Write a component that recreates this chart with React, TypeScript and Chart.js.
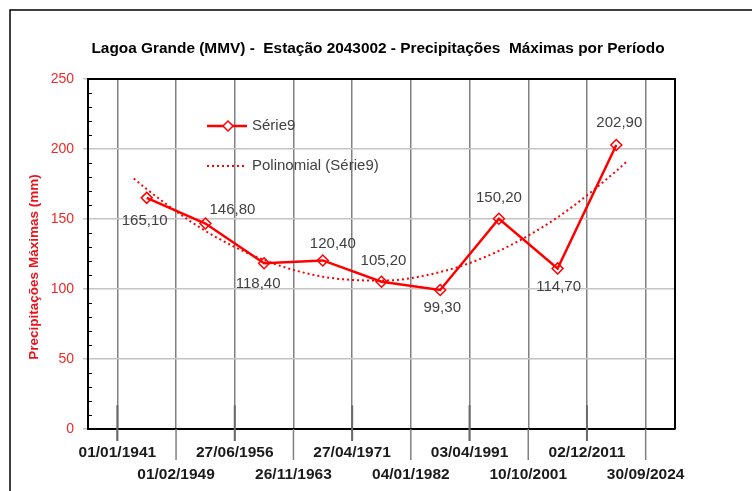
import React, { useEffect, useRef } from 'react';
import { Chart, registerables } from 'chart.js';

Chart.register(...registerables);

// ---- data ----
const periodLabels = [
  '01/01/1941', '01/02/1949', '27/06/1956', '26/11/1963', '27/04/1971',
  '04/01/1982', '03/04/1991', '10/10/2001', '02/12/2011', '30/09/2024',
];
const periodIndex = [1, 2, 3, 4, 5, 6, 7, 8, 9];
const serieValues = [165.1, 146.8, 118.4, 120.4, 105.2, 99.3, 150.2, 114.7, 202.9];
const trendPositions = [0.78, 1, 2, 3, 4, 5, 6, 7, 8, 9, 9.18];
const trendValues = [179.0, 171.3, 141.5, 120.7, 108.8, 106.0, 112.1, 127.2, 151.2, 184.3, 191.2];
const yTickStep = 10;
const yMajorStep = 50;

const titleText = 'Lagoa Grande (MMV) -  Estação 2043002 - Precipitações  Máximas por Período';
const yTitleText = 'Precipitações Máximas (mm)';
const legendSerie = 'Série9';
const legendTrend = 'Polinomial (Série9)';

// label offsets (style, px) relative to each point
const labelOffsets = [
  [-2, 23], [27, -14], [-6, 21], [10, -17], [2, -21], [2, 18], [0, -21], [1, 18], [3, -22],
];

const SANS = '"Liberation Sans", Arial, sans-serif';
const RED = '#ff0000';

const fmt = (v: number) => v.toFixed(2).replace('.', ',');

const decorPlugin = {
  id: 'decor',
  beforeDraw(chart: any) {
    const { ctx, width, height } = chart;
    ctx.save();
    ctx.fillStyle = '#ffffff';
    ctx.fillRect(0, 0, width, height);
    ctx.restore();
  },
  afterDatasetsDraw(chart: any) {
    const { ctx } = chart;
    const meta = chart.getDatasetMeta(0);
    ctx.save();
    ctx.font = `15px ${SANS}`;
    ctx.fillStyle = '#404040';
    ctx.textAlign = 'center';
    ctx.textBaseline = 'middle';
    meta.data.forEach((pt: any, i: number) => {
      const [dx, dy] = labelOffsets[i];
      ctx.fillText(fmt(serieValues[i]), pt.x + dx, pt.y + dy);
    });
    ctx.restore();
  },
  afterDraw(chart: any) {
    const { ctx, chartArea, width, height } = chart;
    const xs = chart.scales.x;
    const ys = chart.scales.y;
    ctx.save();

    // outer frame (left and top visible)
    ctx.strokeStyle = '#000';
    ctx.lineWidth = 1.5;
    ctx.beginPath();
    ctx.moveTo(10, height);
    ctx.lineTo(10, 10);
    ctx.lineTo(width, 10);
    ctx.stroke();

    // plot border top/right
    ctx.lineWidth = 2;
    ctx.beginPath();
    ctx.moveTo(chartArea.left, chartArea.top);
    ctx.lineTo(chartArea.right, chartArea.top);
    ctx.lineTo(chartArea.right, chartArea.bottom);
    ctx.stroke();

    // y minor ticks inside
    ctx.lineWidth = 1;
    for (let v = 0; v <= 250; v += yTickStep) {
      if (v % yMajorStep === 0) continue;
      const y = Math.round(ys.getPixelForValue(v)) + 0.5;
      ctx.beginPath();
      ctx.moveTo(chartArea.left, y);
      ctx.lineTo(chartArea.left + 4, y);
      ctx.stroke();
    }

    // x extension lines below axis
    periodLabels.forEach((_, i) => {
      const x = xs.getPixelForValue(i + 0.5);
      const yEnd = i % 2 === 0 ? chartArea.bottom + 12 : chartArea.bottom + 31;
      ctx.strokeStyle = '#808080';
      ctx.lineWidth = 1.5;
      ctx.beginPath();
      ctx.moveTo(x, chartArea.bottom);
      ctx.lineTo(x, yEnd);
      ctx.stroke();
      if (i % 2 === 0) {
        ctx.strokeStyle = '#6a6a6a';
        ctx.lineWidth = 2;
        ctx.beginPath();
        ctx.moveTo(x, ys.getPixelForValue(17));
        ctx.lineTo(x, yEnd);
        ctx.stroke();
      }
    });

    // title
    ctx.fillStyle = '#000';
    ctx.font = `bold 15.4px ${SANS}`;
    ctx.textAlign = 'center';
    ctx.textBaseline = 'middle';
    ctx.fillText(titleText, 378, 49);

    // y title
    ctx.save();
    ctx.translate(34, 267);
    ctx.rotate(-Math.PI / 2);
    ctx.fillStyle = '#e8141c';
    ctx.font = `bold 13.5px ${SANS}`;
    ctx.fillText(yTitleText, 0, 0);
    ctx.restore();

    // legend
    ctx.strokeStyle = RED;
    ctx.lineWidth = 2.5;
    ctx.setLineDash([]);
    ctx.beginPath();
    ctx.moveTo(207, 126);
    ctx.lineTo(247, 126);
    ctx.stroke();
    ctx.lineWidth = 1.5;
    ctx.fillStyle = '#fff';
    ctx.beginPath();
    ctx.moveTo(228, 121);
    ctx.lineTo(233, 126);
    ctx.lineTo(228, 131);
    ctx.lineTo(223, 126);
    ctx.closePath();
    ctx.fill();
    ctx.stroke();
    ctx.lineWidth = 2;
    ctx.setLineDash([2, 3]);
    ctx.beginPath();
    ctx.moveTo(207, 166);
    ctx.lineTo(244, 166);
    ctx.stroke();
    ctx.setLineDash([]);
    ctx.fillStyle = '#404040';
    ctx.font = `15px ${SANS}`;
    ctx.textAlign = 'left';
    ctx.fillText(legendSerie, 252, 126);
    ctx.fillText(legendTrend, 252, 166);

    ctx.restore();
  },
};

export default function App() {
  const canvasRef = useRef<HTMLCanvasElement | null>(null);

  useEffect(() => {
    const canvas = canvasRef.current;
    if (!canvas) return;
    const chart = new Chart(canvas, {
      type: 'line',
      data: {
        datasets: [
          {
            label: legendSerie,
            data: periodIndex.map((x, i) => ({ x, y: serieValues[i] })),
            borderColor: RED,
            borderWidth: 2.5,
            pointStyle: 'rectRot',
            pointRadius: 5.5,
            pointBackgroundColor: 'rgba(255,255,255,0)',
            pointBorderColor: RED,
            pointBorderWidth: 1.5,
            tension: 0,
          },
          {
            label: legendTrend,
            data: trendPositions.map((x, i) => ({ x, y: trendValues[i] })),
            borderColor: RED,
            borderWidth: 2,
            borderDash: [2, 3],
            pointRadius: 0,
            cubicInterpolationMode: 'monotone',
          },
        ],
      },
      options: {
        animation: false,
        responsive: false,
        maintainAspectRatio: false,
        devicePixelRatio: 1,
        layout: { padding: { top: 79, right: 77, bottom: 0, left: 0 } },
        plugins: {
          legend: { display: false },
          tooltip: { enabled: false },
          title: { display: false },
        },
        scales: {
          x: {
            type: 'linear',
            min: 0,
            max: 10,
            afterBuildTicks: (scale: any) => {
              scale.ticks = periodLabels.map((_, i) => ({ value: i + 0.5 }));
            },
            afterFit: (scale: any) => {
              scale.height = 62;
            },
            ticks: {
              autoSkip: false,
              maxRotation: 0,
              minRotation: 0,
              padding: 13,
              color: '#1a1a1a',
              font: { family: SANS, size: 15.5, weight: 'bold', lineHeight: 1.42 },
              callback: (_v: any, idx: number) =>
                idx % 2 === 0 ? [periodLabels[idx]] : ['', periodLabels[idx]],
            },
            grid: {
              color: '#808080',
              lineWidth: 1.5,
              drawTicks: false,
            },
            border: { color: '#000', width: 2 },
          },
          y: {
            min: 0,
            max: 250,
            afterFit: (scale: any) => {
              scale.width = 88;
            },
            ticks: {
              stepSize: yTickStep,
              autoSkip: false,
              padding: 9,
              color: '#f02828',
              font: { family: SANS, size: 14 },
              callback: (v: any) => (Number(v) % yMajorStep === 0 ? String(v) : ''),
            },
            grid: {
              color: (c: any) => (c.tick && c.tick.value % yMajorStep === 0 ? '#c4c4c4' : 'rgba(0,0,0,0)'),
              lineWidth: 1.5,
              tickLength: 5,
            },
            border: { color: '#000', width: 2 },
          },
        },
      } as any,
      plugins: [decorPlugin],
    });
    return () => chart.destroy();
  }, []);

  return (
    <div style={{ position: 'fixed', left: 0, top: 0, width: 752, height: 491, background: '#fff' }}>
      <canvas ref={canvasRef} width={752} height={491} />
    </div>
  );
}
